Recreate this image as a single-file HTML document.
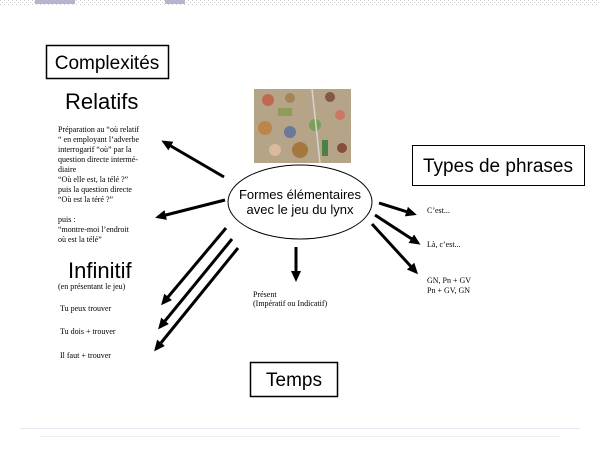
<!DOCTYPE html>
<html><head><meta charset="utf-8"><style>
html,body{margin:0;padding:0;background:#fff;}
svg{display:block;}
.s{font-family:"Liberation Serif",serif;font-size:8px;fill:#000;}
.a{font-family:"Liberation Sans",sans-serif;fill:#000;}
</style></head><body>
<svg width="600" height="450" viewBox="0 0 600 450" xmlns="http://www.w3.org/2000/svg">
<defs>
<marker id="ah" markerWidth="12" markerHeight="12" refX="8" refY="5" orient="auto" markerUnits="userSpaceOnUse">
<path d="M0,0 L11,5 L0,10 z" fill="#000"/></marker>
<pattern id="dots" width="4" height="4" patternUnits="userSpaceOnUse">
<rect width="4" height="4" fill="#fff"/><rect width="1" height="1" fill="#ccc"/><rect x="2" y="2" width="1" height="1" fill="#ccc"/></pattern>
</defs>
<rect x="0" y="0" width="600" height="5" fill="url(#dots)"/>
<rect x="35" y="0" width="40" height="4" fill="#b8b4d0"/>
<rect x="165" y="0" width="20" height="4" fill="#b8b4d0"/>

<rect x="46.5" y="45.5" width="122" height="33" fill="none" stroke="#000" stroke-width="1.5"/>
<text x="107" y="69" class="a" font-size="19" text-anchor="middle">Complexités</text>
<text x="65" y="109" class="a" font-size="22">Relatifs</text>

<text class="s"><tspan x="58" y="132">Préparation au “où relatif</tspan><tspan x="58" y="142">“ en employant l’adverbe</tspan><tspan x="58" y="152">interrogarif  “où” par la</tspan><tspan x="58" y="162">question directe intermé-</tspan><tspan x="58" y="172">diaire</tspan><tspan x="58" y="182">“Où elle est, la télé ?”</tspan><tspan x="58" y="192">puis la question directe</tspan><tspan x="58" y="202">“Où est la téré ?”</tspan><tspan x="58" y="222">puis :</tspan><tspan x="58" y="232">“montre-moi l’endroit</tspan><tspan x="58" y="242">où est la télé”</tspan></text>

<text x="68" y="278" class="a" font-size="22">Infinitif</text>
<text x="58" y="289" class="s">(en présentant le jeu)</text>
<text x="60" y="311" class="s">Tu peux trouver</text>
<text x="60" y="334" class="s">Tu dois + trouver</text>
<text x="60" y="358" class="s">Il faut + trouver</text>

<rect x="254" y="89" width="97" height="74" fill="#b5a488"/>
<g opacity="0.85">
<circle cx="268" cy="100" r="6" fill="#c0604a"/><circle cx="290" cy="98" r="5" fill="#a08050"/><circle cx="330" cy="97" r="5" fill="#7a4a3a"/>
<rect x="278" y="108" width="14" height="8" fill="#8a9a50"/><circle cx="265" cy="128" r="7" fill="#c08040"/><circle cx="290" cy="132" r="6" fill="#6070a0"/>
<circle cx="315" cy="125" r="6" fill="#70a050"/><circle cx="340" cy="115" r="5" fill="#d07060"/><circle cx="300" cy="150" r="8" fill="#a07030"/>
<rect x="322" y="140" width="6" height="16" fill="#3a7a3a"/><circle cx="275" cy="150" r="6" fill="#e0c0a0"/><circle cx="342" cy="148" r="5" fill="#804030"/>
<line x1="312" y1="89" x2="320" y2="163" stroke="#ddd" stroke-width="1.5"/>
</g>

<ellipse cx="300" cy="202" rx="72" ry="37" fill="#fff" stroke="#000" stroke-width="1"/>
<text x="300" y="199" class="a" font-size="13" text-anchor="middle">Formes élémentaires</text>
<text x="300" y="214" class="a" font-size="13" text-anchor="middle">avec le jeu du lynx</text>

<rect x="412.5" y="145.5" width="172" height="40" fill="none" stroke="#000" stroke-width="1"/>
<text x="498" y="172" class="a" font-size="19" text-anchor="middle">Types de phrases</text>
<text x="427" y="213" class="s">C’est...</text>
<text x="427" y="247" class="s">Là, c’est...</text>
<text x="427" y="283" class="s">GN,  Pn + GV</text>
<text x="427" y="293" class="s">Pn + GV, GN</text>

<text x="253" y="297" class="s">Présent</text>
<text x="253" y="306" class="s">(Impératif ou Indicatif)</text>

<rect x="250.5" y="362.5" width="87" height="34" fill="none" stroke="#000" stroke-width="1.5"/>
<text x="294" y="386" class="a" font-size="19" text-anchor="middle">Temps</text>

<g stroke="#000" stroke-width="3" marker-end="url(#ah)">
<line x1="224" y1="177" x2="164" y2="142"/>
<line x1="225" y1="200" x2="158" y2="217"/>
<line x1="226" y1="228" x2="163" y2="303"/>
<line x1="232" y1="239" x2="160" y2="327"/>
<line x1="238" y1="248" x2="156" y2="349"/>
<line x1="296" y1="247" x2="296" y2="279"/>
<line x1="379" y1="203" x2="414" y2="214"/>
<line x1="375" y1="215" x2="418" y2="243"/>
<line x1="372" y1="224" x2="416" y2="272"/>
</g>

<g fill="#cfd3e8">
<rect x="20" y="428" width="560" height="1" opacity="0.5"/>
<rect x="40" y="436" width="520" height="1" opacity="0.4"/>
</g>
</svg>
</body></html>
